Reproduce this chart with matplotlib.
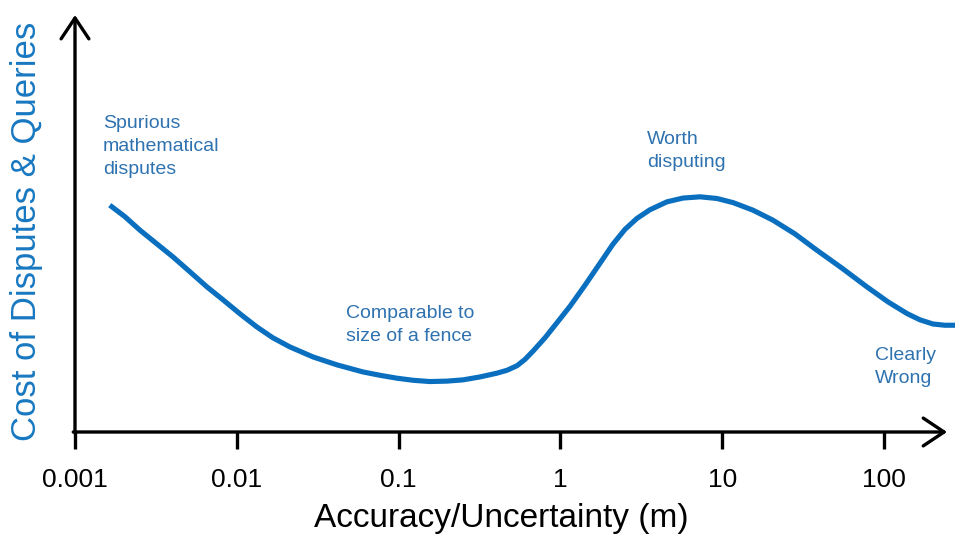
import matplotlib
matplotlib.use("Agg")
import matplotlib.pyplot as plt

plt.rcParams['font.family'] = ['Liberation Sans', 'DejaVu Sans']

# curve: accuracy (m) vs. relative cost (0-100 scale)
accuracy_m = [0.00164, 0.00204, 0.00252, 0.00321, 0.00403, 0.00514, 0.00654, 0.00822,
              0.0105, 0.0133, 0.0167, 0.0213, 0.0296, 0.0416, 0.0603, 0.0767,
              0.0977, 0.123, 0.156, 0.199, 0.250, 0.318, 0.405, 0.468,
              0.540, 0.604, 0.678, 0.804, 0.953, 1.15, 1.42, 1.76,
              2.11, 2.51, 2.97, 3.58, 4.56, 5.73, 7.29, 9.29,
              11.7, 15.5, 20.6, 28.2, 38.5, 55.0, 78.5, 106,
              139, 167, 201, 238, 275]
cost = [54.4, 51.6, 48.4, 45.1, 42.0, 38.4, 34.8, 31.7,
        28.3, 25.2, 22.6, 20.4, 18.0, 16.1, 14.4, 13.6,
        12.9, 12.4, 12.1, 12.2, 12.5, 13.2, 14.1, 14.8,
        15.9, 17.4, 19.4, 22.6, 26.2, 30.2, 35.2, 40.5,
        45.0, 48.6, 51.2, 53.3, 55.2, 56.1, 56.4, 56.0,
        55.0, 53.2, 50.8, 47.5, 43.6, 39.3, 34.8, 31.2,
        28.4, 26.9, 25.9, 25.6, 25.6]

tick_values = [0.001, 0.01, 0.1, 1, 10, 100]
tick_labels = ['0.001', '0.01', '0.1', '1', '10', '100']

notes = ['Spurious\nmathematical\ndisputes', 'Comparable to\nsize of a fence',
         'Worth\ndisputing', 'Clearly\nWrong']
note_x = [0.00149, 0.0473, 3.43, 88]
note_y = [68.5, 25.7, 67.4, 15.6]

LINE_BLUE = '#0A6FBF'
TEXT_BLUE = '#2E72B0'

fig = plt.figure(figsize=(9.55, 5.44), dpi=100)
ax = fig.add_axes([75 / 955, 112 / 544, 880 / 955, 417 / 544])

ax.plot(accuracy_m, cost, color=LINE_BLUE, lw=3.7, solid_capstyle='butt', solid_joinstyle='round')

ax.set_xscale('log')
ax.set_xlim(0.001, 275)
ax.set_ylim(0, 100)

for s in ax.spines.values():
    s.set_visible(False)

# axes drawn as arrows
arrow = dict(arrowstyle='->,head_length=0.75,head_width=0.5', lw=2.4, color='black',
             shrinkA=0, shrinkB=0, mutation_scale=20)
ax.annotate('', xy=(0.991, 0), xytext=(-0.002, 0), xycoords='axes fraction',
            textcoords='axes fraction', arrowprops=arrow, annotation_clip=False)
ax.annotate('', xy=(0, 1.0), xytext=(0, -0.003), xycoords='axes fraction',
            textcoords='axes fraction', arrowprops=arrow, annotation_clip=False)

ax.set_xticks(tick_values)
ax.set_xticklabels(tick_labels)
ax.minorticks_off()
ax.tick_params(axis='x', direction='out', length=12, width=2.4, pad=14, labelsize=19, color='black')
ax.tick_params(axis='y', left=False, labelleft=False)

ax.set_xlabel('Accuracy/Uncertainty (m)', fontsize=24)
ax.xaxis.set_label_coords(0.485, -0.170)
ax.set_ylabel('Cost of Disputes & Queries', fontsize=25, color='#1878C0')
ax.yaxis.set_label_coords(-0.036, 0.48)

for txt, x, y in zip(notes, note_x, note_y):
    ax.text(x, y, txt, color=TEXT_BLUE, fontsize=14, ha='left', va='center', linespacing=1.48)

fig.savefig('out.png', dpi=100)
